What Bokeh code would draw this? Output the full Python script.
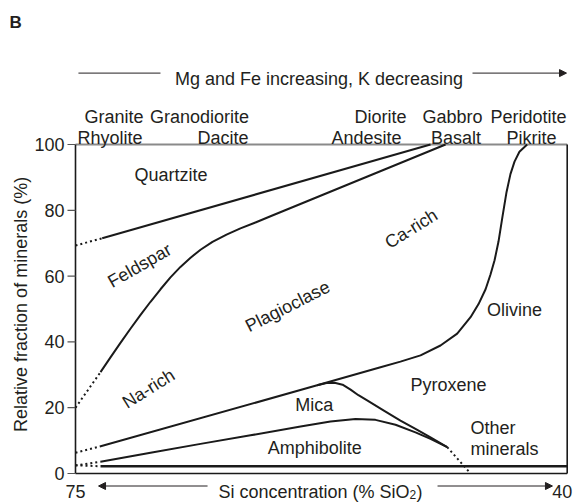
import math
from bokeh.plotting import figure
from bokeh.models import Range1d, Arrow, NormalHead
from bokeh.embed import file_html
from bokeh.resources import INLINE
from bokeh.core.properties import value

FONT = "Liberation Sans"
INK = "#231f20"
LINE = "#1a1a1a"

# ---------------- data: x = SiO2 (%), y = relative fraction of minerals (%)
quartz_dot_x = [75.0, 73.10]
quartz_dot_y = [69.3, 71.5]
quartz_x = [73.10, 49.73]
quartz_y = [71.5, 100.0]

feldspar_dot_x = [75.0, 73.22]
feldspar_dot_y = [20.0, 30.8]
feldspar_x = [73.22, 72.51, 71.80, 71.09, 70.37, 69.66, 68.95, 68.24, 67.53,
              66.81, 66.10, 65.25, 64.25, 63.26, 62.19, 61.12, 48.66]
feldspar_y = [30.8, 35.3, 39.7, 44.0, 48.2, 52.2, 56.0, 59.6, 62.8,
              65.6, 68.0, 70.4, 72.6, 74.5, 76.3, 78.2, 100.0]

pyroxene_dot_x = [75.0, 73.27]
pyroxene_dot_y = [6.3, 8.2]
pyroxene_x = [73.27, 57.80, 53.29, 51.87, 50.44, 49.02, 47.83, 46.88, 46.31,
              45.81, 45.46, 45.17, 44.89, 44.61, 44.32, 44.04, 43.75, 43.40,
              42.85]
pyroxene_y = [8.2, 26.8, 32.3, 34.0, 35.9, 38.9, 42.5, 47.5, 51.5,
              56.0, 60.5, 64.8, 70.5, 78.0, 85.5, 91.0, 94.8, 97.8,
              100.0]

mica_x = [57.80, 57.13, 56.56, 55.99, 55.42, 54.86, 54.24, 53.05, 51.87,
          50.80, 49.73, 48.54]
mica_y = [26.8, 27.5, 27.6, 27.0, 25.5, 23.8, 22.2, 19.1, 16.1,
          13.6, 11.0, 8.0]

amph_dot_x = [75.0, 73.22]
amph_dot_y = [2.4, 3.6]
amph_x = [73.22, 69.66, 66.10, 62.54, 58.98, 56.85, 55.07, 53.65, 52.22,
          50.80, 49.73, 48.54]
amph_y = [3.6, 6.3, 9.0, 11.6, 14.3, 15.8, 16.6, 16.3, 14.8, 12.5, 10.5, 8.0]
amph_tail_x = [48.54, 47.0]
amph_tail_y = [8.0, 0.6]

other_dot_x = [75.0, 73.22]
other_dot_y = [2.5, 2.2]
other_x = [73.22, 40.0]
other_y = [2.2, 2.2]

# region names inside the plot
region_text = ["Quartzite", "Feldspar", "Na-rich", "Plagioclase", "Ca-rich",
               "Olivine", "Pyroxene", "Mica", "Amphibolite"]
region_x = [68.2, 70.44, 69.8, 59.9, 51.1, 43.75, 48.45, 58.0, 57.97]
region_y = [90.6, 63.2, 25.8, 50.8, 74.4, 49.8, 27.05, 20.7, 7.8]
region_angle_deg = [0, 30, 32, 27, 32, 0, 0, 0, 0]

other_text = ["Other", "minerals"]
other_tx = [46.88, 46.88]
other_ty = [13.7, 7.3]

# rock names above the plot
rock_row1 = ["Granite", "Granodiorite", "Diorite", "Gabbro", "Peridotite"]
rock_row1_x = [72.26, 66.17, 53.29, 48.17, 42.76]
rock_row2 = ["Rhyolite", "Dacite", "Andesite", "Basalt", "Pikrite"]
rock_row2_x = [72.54, 64.50, 54.29, 47.92, 42.54]
rock_row1_y = 108.5
rock_row2_y = 102.1

yticks = [0, 20, 40, 60, 80, 100]
xticks = [75, 40]
X_MAX, X_MIN = 75.0, 40.0      # SiO2 span of the diagram
Y_MIN, Y_MAX = 0.0, 100.0

# ---------------- geometry (pixels on the canvas)
W, H = 577, 502
FL, FR, FT, FB = 75.0, 566.7, 144.0, 473.0   # plotting box edges
pxx = (FR - FL) / (X_MAX - X_MIN)            # px per % SiO2
pxy = (FB - FT) / (Y_MAX - Y_MIN)            # px per % fraction

x_left = X_MAX + FL / pxx
x_right = X_MIN - (W - FR) / pxx
y_top = Y_MAX + FT / pxy
y_bottom = Y_MIN - (H - FB) / pxy

p = figure(width=W, height=H, output_backend="svg", toolbar_location=None,
           x_range=Range1d(x_left, x_right), y_range=Range1d(y_bottom, y_top),
           min_border=0)
p.min_border_left = p.min_border_right = 0
p.min_border_top = p.min_border_bottom = 0
p.axis.visible = False
p.grid.visible = False
p.outline_line_color = None
p.background_fill_color = "white"
p.border_fill_color = "white"

def txt(x, y, text, size="18px", align="center", baseline="alphabetic",
        angle=0, style="normal", x_offset=0):
    p.text(x=x, y=y, text=text, angle=angle, x_offset=x_offset,
           text_font=value(FONT), text_font_size=size, text_color=INK,
           text_align=align, text_baseline=baseline, text_font_style=style)

# ---- plotting box
p.line([X_MAX, X_MIN], [Y_MAX, Y_MAX], line_color="#8a8a8a", line_width=2)
p.line([X_MAX, X_MAX], [Y_MIN, Y_MAX], line_color=LINE, line_width=1.6)
p.line([X_MIN, X_MIN], [Y_MIN, Y_MAX], line_color=LINE, line_width=1.6)
p.line([X_MAX, X_MIN], [Y_MIN, Y_MIN], line_color=LINE, line_width=1.6)

# ---- y ticks and labels
tick_len = 8 / pxx
p.segment(x0=[X_MAX] * len(yticks), y0=yticks,
          x1=[X_MAX + tick_len] * len(yticks), y1=yticks,
          line_color="#555555", line_width=1.2)
txt([X_MAX + 11 / pxx] * len(yticks), yticks, [str(t) for t in yticks],
    align="right", baseline="middle")

# ---- x tick labels (the last one nudged in so it stays on the canvas)
bottom_base = Y_MIN - 18 / pxy
txt(xticks[:1], [bottom_base], [str(xticks[0])])
txt(xticks[1:], [bottom_base], [str(xticks[1])], x_offset=-5)

# ---- curves
SOLID_W = 2
DOT = "2 3"

def solid(xs, ys, w=SOLID_W):
    p.line(xs, ys, line_color=LINE, line_width=w, line_join="round")

def dotted(xs, ys):
    p.line(xs, ys, line_color=LINE, line_width=2, line_dash=DOT)

dotted(quartz_dot_x, quartz_dot_y)
solid(quartz_x, quartz_y)
dotted(feldspar_dot_x, feldspar_dot_y)
solid(feldspar_x, feldspar_y)
dotted(pyroxene_dot_x, pyroxene_dot_y)
solid(pyroxene_x, pyroxene_y)
solid(mica_x, mica_y)
dotted(amph_dot_x, amph_dot_y)
solid(amph_x, amph_y)
dotted(amph_tail_x, amph_tail_y)
dotted(other_dot_x, other_dot_y)
solid(other_x, other_y, w=2.5)

# ---- region labels
txt(region_x, region_y, region_text, baseline="middle",
    angle=[math.radians(a) for a in region_angle_deg])
txt(other_tx, other_ty, other_text, align="left", baseline="middle")

# ---- rock names
txt(rock_row1_x, [rock_row1_y] * len(rock_row1), rock_row1)
txt(rock_row2_x, [rock_row2_y] * len(rock_row2), rock_row2)

# ---- panel letter
txt([79.70], [137.1], ["B"], size="17px", align="left", style="bold")

# ---- top arrow + text
top_y = 121.7
txt([57.67], [119.9], ["Mg and Fe increasing, K decreasing"])
p.add_layout(Arrow(end=None, x_start=74.79, y_start=top_y, x_end=68.95,
                   y_end=top_y, line_color=INK, line_width=1))
p.add_layout(Arrow(end=NormalHead(size=7, fill_color=INK, line_color=INK),
                   x_start=46.74, y_start=top_y, x_end=40.05, y_end=top_y,
                   line_color=INK, line_width=1))

# ---- y axis title
txt([78.91], [51.4], ["Relative fraction of minerals (%)"],
    baseline="middle", angle=math.pi / 2)

# ---- x axis title with subscript and arrows
sub_base = bottom_base - 3.0 / pxy
txt([64.82], [bottom_base], ["Si concentration (% SiO"], align="left")
txt([64.82], [sub_base], ["2"], size="12px", align="left", x_offset=191.1)
txt([64.82], [bottom_base], [")"], align="left", x_offset=198.0)
bot_y = bottom_base + 5.5 / pxy
p.add_layout(Arrow(end=NormalHead(size=7, fill_color=INK, line_color=INK),
                   x_start=65.6, y_start=bot_y, x_end=73.36, y_end=bot_y,
                   line_color=INK, line_width=1))
p.add_layout(Arrow(end=NormalHead(size=7, fill_color=INK, line_color=INK),
                   x_start=49.23, y_start=bot_y, x_end=41.05, y_end=bot_y,
                   line_color=INK, line_width=1))

open("out.html", "w").write(file_html(p, INLINE))
